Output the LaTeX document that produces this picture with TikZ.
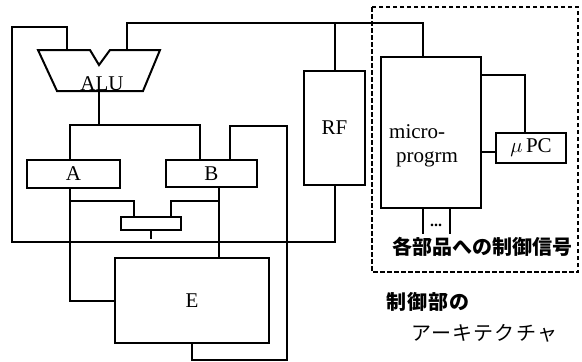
\documentclass[tikz,border=0pt]{standalone}
\usepackage{fontspec}
\setmainfont{Liberation Serif}
\newfontfamily\jpfont{Noto Sans CJK JP}
\newfontfamily\jpwide{Noto Sans CJK JP}[LetterSpace=6]
\begin{document}
\begin{tikzpicture}[x=1pt, y=-1pt,
    box/.style={draw, line width=2pt, inner sep=0pt, font=\fontsize{21}{23}\selectfont},
    wire/.style={line width=2pt},
    lbl/.style={inner sep=0pt, font=\fontsize{21}{23}\selectfont},
    jp/.style={inner sep=0pt, font=\jpfont\bfseries\fontsize{20}{22}\selectfont},
    jpw/.style={inner sep=0pt, font=\jpwide\fontsize{20}{22}\selectfont}]
    \useasboundingbox (0,0) rectangle (582,362);

    % Registers, selector and units
    \node[box, minimum width=93, minimum height=28] (A) at (73.5,174) {A};
    \node[box, minimum width=91, minimum height=27] (B) at (211.5,173.5) {B};
    \node[box, minimum width=60, minimum height=13] (sel) at (151,223.5) {};
    \node[box, minimum width=154, minimum height=85] (E) at (192,300.5) {E};
    \node[box, minimum width=61, minimum height=114] (RF) at (334.5,128) {RF};
    \node[box, minimum width=100, minimum height=151] (micro) at (431,132.5) {};
    \node[box, minimum width=70, minimum height=30] (upc) at (531,148) {$\mu$\,PC};
    \node[lbl, anchor=west] (microa) at (389,132) {micro-};
    \node[lbl, anchor=west] (microb) at (396,159) {progrm};

    % ALU outline
    \draw[wire] (38,50) -- (90,50) -- (99,65) -- (110,50) -- (160,50)
        -- (143,91) -- (57,91) -- cycle;
    \coordinate (aluL) at (67,50);
    \coordinate (aluR) at (127,50);
    \coordinate (aluO) at (99,91);
    \node[lbl] (alu) at (102,84) {ALU};

    % ALU result to A and B
    \draw[wire] (aluO) -- (99,125) coordinate (abus);
    \draw[wire] ([xshift=-3.5]A.north) |- (abus) -| ([xshift=-11.5]B.north);

    % left ALU input from RF
    \draw[wire] (aluL) -- (67,27) -- (12,27) -- (12,242) -| (RF.south);
    % right ALU input from RF and micro
    \draw[wire] (aluR) -- (127,23) -| ([xshift=-8]micro.north);
    \draw[wire] (RF.north) -- (RF.north |- 0,23);

    % A, B to E and selector
    \draw[wire] ([xshift=-3.5]A.south) |- (E.west);
    \draw[wire] (70,201) -| ([xshift=-17]sel.north);
    \draw[wire] ([xshift=7.5]B.south) -- ([xshift=27]E.north);
    \draw[wire] (219,201) -| ([xshift=20]sel.north);
    \draw[wire] (sel.south) -- ++(0,8) coordinate (selout);

    % E back to B
    \draw[wire] ([xshift=18.5]B.north) |- (287,126) -- (287,360) -| (E.south);

    % micro and uPC
    \draw[wire] (micro.east |- 0,152) -- (upc.west |- 0,152);
    \draw[wire] (micro.east |- 0,75) -| ([xshift=-6]upc.north);

    % control outputs
    \draw[wire] ([xshift=-8]micro.south) -- ++(0,25) coordinate (c1);
    \draw[wire] ([xshift=19]micro.south) -- ++(0,25) coordinate (c2);
    \node[inner sep=0pt, font=\bfseries\fontsize{16}{16}\selectfont] (dots) at (436,225) {...};

    % control part boundary
    \draw[line width=2.2pt, dash pattern=on 4.5pt off 2.5pt] (372,7) rectangle (578,272);
    \node[jp] (ctrl) at (482,247) {各部品への制御信号};
    \node[jpw, anchor=west, font=\jpwide\bfseries\fontsize{20}{22}\selectfont] (title1) at (386,302) {制御部の};
    \node[jpw, anchor=west] (title2) at (411,333) {アーキテクチャ};
\end{tikzpicture}
\end{document}
